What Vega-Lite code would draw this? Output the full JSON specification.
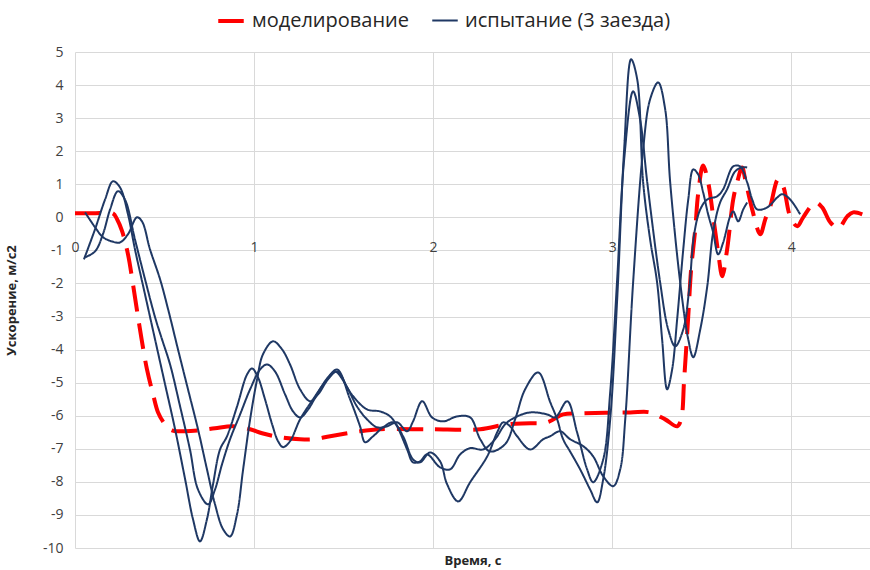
{
"$schema": "https://vega.github.io/schema/vega-lite/v6.json",
"width": 795, "height": 496,
"autosize": {"type": "none"},
"padding": {"left": 75, "top": 52, "right": 0, "bottom": 22},
"background": "white",
"config": {
  "view": {"stroke": null},
  "font": "Open Sans",
  "legend": {"orient": "none", "legendX": 141, "legendY": -46, "direction": "horizontal", "labelFont": "Open Sans", "labelFontSize": 20, "labelColor": "#262626", "symbolType": "stroke", "symbolSize": 650, "columnPadding": 18, "labelOffset": 6, "labelLimit": 400}
},
"datasets": {
 "series": [{"r": "M", "s": "моделирование"}, {"r": "A", "s": "испытание (3 заезда)"}, {"r": "B", "s": "испытание (3 заезда)"}, {"r": "C", "s": "испытание (3 заезда)"}]
},
"data": {"values": [
{"r":"M","x":0,"y":0.12},{"r":"M","x":0.1,"y":0.12},{"r":"M","x":0.212,"y":0.12},{"r":"M","x":0.235,"y":-0.06},{"r":"M","x":0.263,"y":-0.42},{"r":"M","x":0.296,"y":-1.12},{"r":"M","x":0.324,"y":-2.03},{"r":"M","x":0.363,"y":-3.39},{"r":"M","x":0.402,"y":-4.6},{"r":"M","x":0.436,"y":-5.35},{"r":"M","x":0.464,"y":-5.9},{"r":"M","x":0.503,"y":-6.26},{"r":"M","x":0.542,"y":-6.44},{"r":"M","x":0.615,"y":-6.47},{"r":"M","x":0.698,"y":-6.44},{"r":"M","x":0.782,"y":-6.38},{"r":"M","x":0.883,"y":-6.32},{"r":"M","x":0.978,"y":-6.41},{"r":"M","x":1.045,"y":-6.53},{"r":"M","x":1.145,"y":-6.65},{"r":"M","x":1.257,"y":-6.71},{"r":"M","x":1.33,"y":-6.71},{"r":"M","x":1.425,"y":-6.62},{"r":"M","x":1.592,"y":-6.47},{"r":"M","x":1.704,"y":-6.41},{"r":"M","x":1.983,"y":-6.41},{"r":"M","x":2.263,"y":-6.41},{"r":"M","x":2.413,"y":-6.26},{"r":"M","x":2.542,"y":-6.23},{"r":"M","x":2.637,"y":-6.2},{"r":"M","x":2.726,"y":-5.96},{"r":"M","x":2.821,"y":-5.93},{"r":"M","x":3.101,"y":-5.9},{"r":"M","x":3.212,"y":-5.9},{"r":"M","x":3.296,"y":-6.11},{"r":"M","x":3.363,"y":-6.32},{"r":"M","x":3.385,"y":-6.11},{"r":"M","x":3.402,"y":-4.9},{"r":"M","x":3.425,"y":-2.99},{"r":"M","x":3.441,"y":-1.57},{"r":"M","x":3.464,"y":-0.36},{"r":"M","x":3.48,"y":0.7},{"r":"M","x":3.508,"y":1.57},{"r":"M","x":3.536,"y":1.06},{"r":"M","x":3.564,"y":0.03},{"r":"M","x":3.592,"y":-1.06},{"r":"M","x":3.615,"y":-1.78},{"r":"M","x":3.642,"y":-0.97},{"r":"M","x":3.676,"y":0.54},{"r":"M","x":3.698,"y":1.06},{"r":"M","x":3.726,"y":1.51},{"r":"M","x":3.743,"y":1.15},{"r":"M","x":3.782,"y":0.24},{"r":"M","x":3.827,"y":-0.51},{"r":"M","x":3.855,"y":-0.06},{"r":"M","x":3.883,"y":0.33},{"r":"M","x":3.927,"y":1.15},{"r":"M","x":3.955,"y":0.94},{"r":"M","x":3.994,"y":0.03},{"r":"M","x":4.034,"y":-0.27},{"r":"M","x":4.067,"y":0},{"r":"M","x":4.134,"y":0.45},{"r":"M","x":4.173,"y":0.3},{"r":"M","x":4.218,"y":-0.15},{"r":"M","x":4.263,"y":-0.33},{"r":"M","x":4.313,"y":0.03},{"r":"M","x":4.346,"y":0.15},{"r":"M","x":4.397,"y":0.09},
{"r":"A","x":0.05,"y":-1.27},{"r":"A","x":0.112,"y":-0.36},{"r":"A","x":0.168,"y":0.54},{"r":"A","x":0.212,"y":1.09},{"r":"A","x":0.251,"y":0.91},{"r":"A","x":0.296,"y":0.09},{"r":"A","x":0.335,"y":-0.97},{"r":"A","x":0.391,"y":-2.33},{"r":"A","x":0.447,"y":-3.69},{"r":"A","x":0.503,"y":-5.05},{"r":"A","x":0.559,"y":-6.41},{"r":"A","x":0.615,"y":-7.92},{"r":"A","x":0.659,"y":-9.13},{"r":"A","x":0.698,"y":-9.8},{"r":"A","x":0.737,"y":-9.13},{"r":"A","x":0.771,"y":-8.07},{"r":"A","x":0.81,"y":-7.02},{"r":"A","x":0.849,"y":-6.62},{"r":"A","x":0.905,"y":-5.72},{"r":"A","x":0.961,"y":-4.75},{"r":"A","x":0.989,"y":-4.57},{"r":"A","x":1.022,"y":-4.84},{"r":"A","x":1.061,"y":-5.5},{"r":"A","x":1.101,"y":-6.26},{"r":"A","x":1.134,"y":-6.77},{"r":"A","x":1.162,"y":-6.95},{"r":"A","x":1.201,"y":-6.77},{"r":"A","x":1.257,"y":-6.11},{"r":"A","x":1.33,"y":-5.5},{"r":"A","x":1.408,"y":-4.9},{"r":"A","x":1.464,"y":-4.6},{"r":"A","x":1.536,"y":-5.5},{"r":"A","x":1.592,"y":-6.32},{"r":"A","x":1.62,"y":-6.8},{"r":"A","x":1.665,"y":-6.62},{"r":"A","x":1.721,"y":-6.35},{"r":"A","x":1.777,"y":-6.2},{"r":"A","x":1.832,"y":-6.62},{"r":"A","x":1.888,"y":-7.32},{"r":"A","x":1.927,"y":-7.41},{"r":"A","x":1.983,"y":-7.11},{"r":"A","x":2.039,"y":-7.38},{"r":"A","x":2.078,"y":-8.07},{"r":"A","x":2.14,"y":-8.59},{"r":"A","x":2.207,"y":-8.01},{"r":"A","x":2.302,"y":-7.23},{"r":"A","x":2.358,"y":-6.5},{"r":"A","x":2.391,"y":-6.2},{"r":"A","x":2.43,"y":-6.32},{"r":"A","x":2.469,"y":-6.62},{"r":"A","x":2.542,"y":-7.02},{"r":"A","x":2.615,"y":-6.71},{"r":"A","x":2.654,"y":-6.62},{"r":"A","x":2.709,"y":-6.47},{"r":"A","x":2.765,"y":-6.71},{"r":"A","x":2.838,"y":-6.92},{"r":"A","x":2.894,"y":-7.23},{"r":"A","x":2.95,"y":-7.83},{"r":"A","x":3.006,"y":-8.13},{"r":"A","x":3.045,"y":-7.62},{"r":"A","x":3.073,"y":-6.11},{"r":"A","x":3.117,"y":-1.97},{"r":"A","x":3.173,"y":2.06},{"r":"A","x":3.212,"y":3.57},{"r":"A","x":3.257,"y":4.08},{"r":"A","x":3.296,"y":3.27},{"r":"A","x":3.324,"y":1.06},{"r":"A","x":3.38,"y":-1.97},{"r":"A","x":3.425,"y":-3.69},{"r":"A","x":3.453,"y":-4.23},{"r":"A","x":3.492,"y":-3.39},{"r":"A","x":3.531,"y":-2.09},{"r":"A","x":3.564,"y":-0.45},{"r":"A","x":3.603,"y":0.45},{"r":"A","x":3.642,"y":0.85},{"r":"A","x":3.687,"y":1.39},{"r":"A","x":3.726,"y":1.51},{"r":"A","x":3.754,"y":1.51},
{"r":"B","x":0.056,"y":0.15},{"r":"B","x":0.112,"y":-0.3},{"r":"B","x":0.156,"y":-0.6},{"r":"B","x":0.207,"y":-0.73},{"r":"B","x":0.251,"y":-0.76},{"r":"B","x":0.296,"y":-0.51},{"r":"B","x":0.346,"y":0},{"r":"B","x":0.374,"y":-0.12},{"r":"B","x":0.419,"y":-0.97},{"r":"B","x":0.475,"y":-1.87},{"r":"B","x":0.52,"y":-2.78},{"r":"B","x":0.575,"y":-3.99},{"r":"B","x":0.631,"y":-5.2},{"r":"B","x":0.687,"y":-6.41},{"r":"B","x":0.737,"y":-7.62},{"r":"B","x":0.782,"y":-8.68},{"r":"B","x":0.827,"y":-9.43},{"r":"B","x":0.866,"y":-9.65},{"r":"B","x":0.905,"y":-8.98},{"r":"B","x":0.939,"y":-7.62},{"r":"B","x":0.978,"y":-6.11},{"r":"B","x":1.017,"y":-4.9},{"r":"B","x":1.05,"y":-4.14},{"r":"B","x":1.106,"y":-3.75},{"r":"B","x":1.156,"y":-3.99},{"r":"B","x":1.201,"y":-4.45},{"r":"B","x":1.257,"y":-5.2},{"r":"B","x":1.313,"y":-5.56},{"r":"B","x":1.358,"y":-5.35},{"r":"B","x":1.413,"y":-4.9},{"r":"B","x":1.464,"y":-4.66},{"r":"B","x":1.52,"y":-5.14},{"r":"B","x":1.575,"y":-5.72},{"r":"B","x":1.631,"y":-6.11},{"r":"B","x":1.687,"y":-6.35},{"r":"B","x":1.743,"y":-6.32},{"r":"B","x":1.799,"y":-6.2},{"r":"B","x":1.855,"y":-6.47},{"r":"B","x":1.888,"y":-6.17},{"r":"B","x":1.939,"y":-5.56},{"r":"B","x":1.994,"y":-6.05},{"r":"B","x":2.056,"y":-6.17},{"r":"B","x":2.134,"y":-6.02},{"r":"B","x":2.207,"y":-6.05},{"r":"B","x":2.263,"y":-6.71},{"r":"B","x":2.318,"y":-7.08},{"r":"B","x":2.402,"y":-6.86},{"r":"B","x":2.458,"y":-6.11},{"r":"B","x":2.514,"y":-5.2},{"r":"B","x":2.587,"y":-4.69},{"r":"B","x":2.654,"y":-5.59},{"r":"B","x":2.693,"y":-6.11},{"r":"B","x":2.726,"y":-6.71},{"r":"B","x":2.765,"y":-7.08},{"r":"B","x":2.821,"y":-7.62},{"r":"B","x":2.877,"y":-8.23},{"r":"B","x":2.916,"y":-8.62},{"r":"B","x":2.95,"y":-7.92},{"r":"B","x":2.989,"y":-6.11},{"r":"B","x":3.028,"y":-2.48},{"r":"B","x":3.067,"y":2.06},{"r":"B","x":3.106,"y":4.78},{"r":"B","x":3.14,"y":4.17},{"r":"B","x":3.173,"y":1.06},{"r":"B","x":3.212,"y":-0.67},{"r":"B","x":3.251,"y":-1.97},{"r":"B","x":3.279,"y":-3.69},{"r":"B","x":3.307,"y":-5.2},{"r":"B","x":3.335,"y":-4.6},{"r":"B","x":3.363,"y":-3.08},{"r":"B","x":3.397,"y":-0.97},{"r":"B","x":3.425,"y":0.54},{"r":"B","x":3.453,"y":1.45},{"r":"B","x":3.48,"y":1.3},{"r":"B","x":3.508,"y":0.76},{"r":"B","x":3.536,"y":0.09},{"r":"B","x":3.564,"y":-0.45},{"r":"B","x":3.592,"y":-1.12},{"r":"B","x":3.62,"y":-0.76},{"r":"B","x":3.659,"y":0.03},{"r":"B","x":3.676,"y":0.18},{"r":"B","x":3.704,"y":-0.12},{"r":"B","x":3.732,"y":0.24},{"r":"B","x":3.754,"y":0.45},
{"r":"C","x":0.056,"y":-1.21},{"r":"C","x":0.112,"y":-1.03},{"r":"C","x":0.156,"y":-0.51},{"r":"C","x":0.196,"y":0.24},{"r":"C","x":0.24,"y":0.79},{"r":"C","x":0.279,"y":0.54},{"r":"C","x":0.335,"y":-0.67},{"r":"C","x":0.391,"y":-1.87},{"r":"C","x":0.447,"y":-3.02},{"r":"C","x":0.486,"y":-3.69},{"r":"C","x":0.531,"y":-4.45},{"r":"C","x":0.587,"y":-5.72},{"r":"C","x":0.642,"y":-7.02},{"r":"C","x":0.687,"y":-8.23},{"r":"C","x":0.743,"y":-8.68},{"r":"C","x":0.782,"y":-8.23},{"r":"C","x":0.821,"y":-7.47},{"r":"C","x":0.866,"y":-6.71},{"r":"C","x":0.922,"y":-5.96},{"r":"C","x":0.978,"y":-5.2},{"r":"C","x":1.034,"y":-4.6},{"r":"C","x":1.073,"y":-4.45},{"r":"C","x":1.117,"y":-4.66},{"r":"C","x":1.173,"y":-5.35},{"r":"C","x":1.218,"y":-5.87},{"r":"C","x":1.257,"y":-6.05},{"r":"C","x":1.302,"y":-5.81},{"r":"C","x":1.358,"y":-5.29},{"r":"C","x":1.413,"y":-4.84},{"r":"C","x":1.453,"y":-4.66},{"r":"C","x":1.553,"y":-5.41},{"r":"C","x":1.631,"y":-5.81},{"r":"C","x":1.704,"y":-5.87},{"r":"C","x":1.76,"y":-6.02},{"r":"C","x":1.799,"y":-6.32},{"r":"C","x":1.855,"y":-7.02},{"r":"C","x":1.888,"y":-7.41},{"r":"C","x":1.927,"y":-7.38},{"r":"C","x":1.966,"y":-7.17},{"r":"C","x":2.039,"y":-7.56},{"r":"C","x":2.095,"y":-7.62},{"r":"C","x":2.151,"y":-7.17},{"r":"C","x":2.207,"y":-6.98},{"r":"C","x":2.279,"y":-7.02},{"r":"C","x":2.346,"y":-6.71},{"r":"C","x":2.402,"y":-6.26},{"r":"C","x":2.458,"y":-6.05},{"r":"C","x":2.542,"y":-5.9},{"r":"C","x":2.637,"y":-5.96},{"r":"C","x":2.682,"y":-6.05},{"r":"C","x":2.749,"y":-5.56},{"r":"C","x":2.804,"y":-6.5},{"r":"C","x":2.86,"y":-7.62},{"r":"C","x":2.894,"y":-8.01},{"r":"C","x":2.95,"y":-7.32},{"r":"C","x":2.989,"y":-5.29},{"r":"C","x":3.028,"y":-1.87},{"r":"C","x":3.067,"y":1.75},{"r":"C","x":3.117,"y":3.81},{"r":"C","x":3.156,"y":2.96},{"r":"C","x":3.196,"y":1.06},{"r":"C","x":3.268,"y":-1.97},{"r":"C","x":3.313,"y":-3.39},{"r":"C","x":3.352,"y":-3.9},{"r":"C","x":3.397,"y":-3.39},{"r":"C","x":3.43,"y":-2.18},{"r":"C","x":3.458,"y":-0.51},{"r":"C","x":3.492,"y":0.24},{"r":"C","x":3.531,"y":0.54},{"r":"C","x":3.587,"y":0.64},{"r":"C","x":3.62,"y":0.85},{"r":"C","x":3.676,"y":1.54},{"r":"C","x":3.715,"y":1.54},{"r":"C","x":3.754,"y":1.06},{"r":"C","x":3.782,"y":0.54},{"r":"C","x":3.81,"y":0.24},{"r":"C","x":3.866,"y":0.3},{"r":"C","x":3.922,"y":0.6},{"r":"C","x":3.95,"y":0.7},{"r":"C","x":3.994,"y":0.54},{"r":"C","x":4.05,"y":0.09}
]},
"transform": [
  {"lookup": "r", "from": {"data": {"name": "series"}, "key": "r", "fields": ["s"]}}
],
"mark": {"type": "line", "interpolate": "catmull-rom", "clip": true},
"encoding": {
  "x": {"field": "x", "type": "quantitative", "scale": {"domain": [0, 4.44], "nice": false, "zero": false},
    "axis": {"values": [0, 1, 2, 3, 4], "offset": -330, "domain": false, "ticks": false, "labelPadding": 22, "labelFlush": false, "labelFontSize": 14, "labelColor": "#404040", "grid": true, "gridColor": "#d9d9d9", "title": "Время, с", "titleFontWeight": "bold", "titleFontSize": 13, "titleColor": "#262626", "titleY": 342, "titleBaseline": "middle"}},
  "y": {"field": "y", "type": "quantitative", "scale": {"domain": [-10, 5], "nice": false},
    "axis": {"values": [-10, -9, -8, -7, -6, -5, -4, -3, -2, -1, 0, 1, 2, 3, 4, 5], "domain": false, "ticks": false, "labelPadding": 12, "labelFontSize": 14, "labelColor": "#404040", "labelExpr": "replace(datum.label, '−', '-')", "grid": true, "gridColor": "#d9d9d9", "title": "Ускорение, м/с2", "titleFontWeight": "bold", "titleFontSize": 13, "titleColor": "#262626", "titleX": -64, "titleY": 248, "titleAngle": -90, "titleAlign": "center", "titleBaseline": "middle"}},
  "color": {"field": "s", "type": "nominal", "scale": {"domain": ["моделирование", "испытание (3 заезда)"], "range": ["#ff0000", "#1f3864"]}, "legend": {"title": null}},
  "strokeDash": {"field": "s", "type": "nominal", "scale": {"domain": ["моделирование", "испытание (3 заезда)"], "range": [[26, 12], [1, 0]]}, "legend": {"title": null}},
  "strokeWidth": {"field": "s", "type": "nominal", "scale": {"domain": ["моделирование", "испытание (3 заезда)"], "range": [4, 2]}, "legend": {"title": null}},
  "detail": {"field": "r", "type": "nominal"}
}
}
